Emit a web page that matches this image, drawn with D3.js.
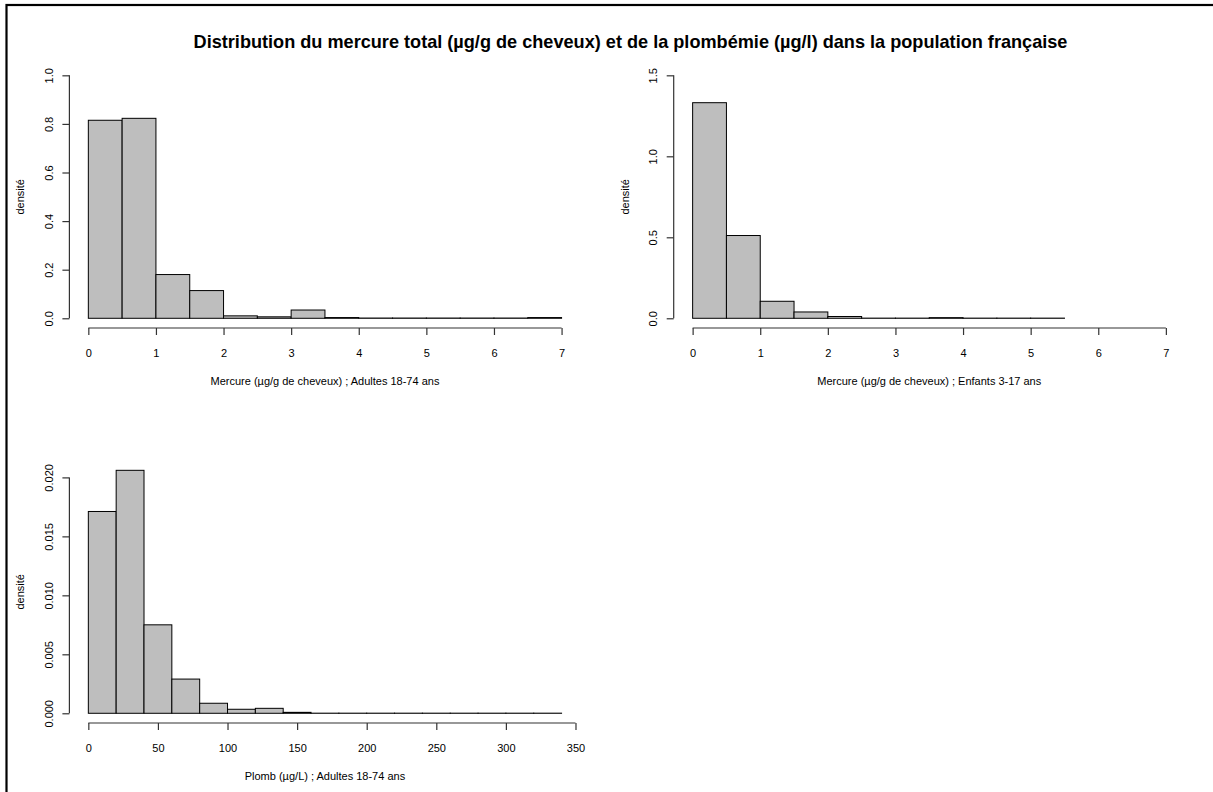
<!DOCTYPE html>
<html>
<head>
<meta charset="utf-8">
<script src="https://cdn.jsdelivr.net/npm/d3@7"></script>
<style>
  html, body { margin: 0; padding: 0; background: #fff; }
  svg { display: block; }
  text { font-family: "Liberation Sans", Arial, Helvetica, sans-serif; fill: #000; }
</style>
</head>
<body>
<svg id="chart" width="1213" height="792"></svg>
<script>
// ---------- data ----------
const chartTitle = "Distribution du mercure total (µg/g de cheveux) et de la plombémie (µg/l) dans la population française";

// Panel 1: Mercure adultes (breaks 0..7 step 0.5)
const hgAdultBreaks = [0, 0.5, 1, 1.5, 2, 2.5, 3, 3.5, 4, 4.5, 5, 5.5, 6, 6.5, 7];
const hgAdultDensity = [0.815, 0.823, 0.180, 0.114, 0.010, 0.006, 0.034, 0.003, 0.001, 0.001, 0.001, 0.001, 0.001, 0.003];
const hgAdultXTicks = [0, 1, 2, 3, 4, 5, 6, 7];
const hgAdultYTicks = [0, 0.2, 0.4, 0.6, 0.8, 1.0];
const hgAdultXLabel = "Mercure (µg/g de cheveux) ; Adultes 18-74 ans";

// Panel 2: Mercure enfants (breaks 0..5.5 step 0.5)
const hgChildBreaks = [0, 0.5, 1, 1.5, 2, 2.5, 3, 3.5, 4, 4.5, 5, 5.5];
const hgChildDensity = [1.331, 0.511, 0.105, 0.039, 0.011, 0.001, 0.001, 0.004, 0.001, 0.001, 0.001];
const hgChildXTicks = [0, 1, 2, 3, 4, 5, 6, 7];
const hgChildYTicks = [0, 0.5, 1.0, 1.5];
const hgChildXLabel = "Mercure (µg/g de cheveux) ; Enfants 3-17 ans";

// Panel 3: Plomb adultes (breaks 0..340 step 20)
const pbAdultBreaks = [0, 20, 40, 60, 80, 100, 120, 140, 160, 180, 200, 220, 240, 260, 280, 300, 320, 340];
const pbAdultDensity = [0.01711, 0.0206, 0.0075, 0.0029, 0.00085, 0.00034, 0.00042, 0.00008, 0.00001, 0.00001, 0.00001, 0.00001, 0.00001, 0.00001, 0.00001, 0.00001, 0.00001];
const pbAdultXTicks = [0, 50, 100, 150, 200, 250, 300, 350];
const pbAdultYTicks = [0, 0.005, 0.010, 0.015, 0.020];
const pbAdultXLabel = "Plomb (µg/L) ; Adultes 18-74 ans";

const yLabelText = "densité";

// ---------- layout ----------
const svg = d3.select("#chart");
const FONT = 11;
const PW = 511.1, PH = 262.4;

// frame (only top/left visible in crop)
svg.append("rect").attr("x", 6.5).attr("y", 5).attr("width", 1300).attr("height", 900)
  .attr("fill", "none").attr("stroke", "#000").attr("stroke-width", 2.2);

// title
const t = svg.append("text").attr("x", 630.5).attr("y", 48).attr("text-anchor", "middle")
  .attr("font-weight", "bold").attr("font-size", 15).text(chartTitle);
const tw = t.node().getComputedTextLength();
t.attr("font-size", 15 * 875 / tw);

function panel(opts) {
  const { left, top, breaks, density, xDomain, yDomain, xTicks, yTicks, xLabel, yFmt } = opts;
  const xr = xDomain[1] - xDomain[0], yr = yDomain[1] - yDomain[0];
  const x = d3.scaleLinear().domain([xDomain[0] - 0.04 * xr, xDomain[1] + 0.04 * xr]).range([left, left + PW]);
  const y = d3.scaleLinear().domain([yDomain[0] - 0.04 * yr, yDomain[1] + 0.04 * yr]).range([top + PH, top]);
  const g = svg.append("g");

  // bars
  const bins = density.map((d, i) => ({ x0: breaks[i], x1: breaks[i + 1], d }));
  g.selectAll("rect.bar").data(bins).enter().append("rect")
    .attr("class", "bar")
    .attr("x", b => x(b.x0))
    .attr("y", b => y(b.d))
    .attr("width", b => x(b.x1) - x(b.x0))
    .attr("height", b => y(0) - y(b.d))
    .attr("fill", "#bebebe").attr("stroke", "#000").attr("stroke-width", 1);

  const axisY = top + PH;   // x-axis position
  const axisX = left;       // y-axis position

  // x axis
  const xa = g.append("g").attr("transform", `translate(0,${axisY})`)
    .call(d3.axisBottom(x).tickValues(xTicks).tickSize(7).tickSizeOuter(0).tickFormat(d3.format("d")));
  xa.select(".domain").remove();
  xa.selectAll(".tick line").attr("stroke", "#333").attr("stroke-width", 1.2);
  xa.append("line").attr("x1", x(xTicks[0])).attr("x2", x(xTicks[xTicks.length - 1]))
    .attr("y1", 0).attr("y2", 0).attr("stroke", "#333").attr("stroke-width", 1.2);
  xa.selectAll(".tick text").attr("y", 28.8).attr("dy", null)
    .attr("font-size", FONT).attr("font-family", null).attr("fill", "#000");

  // y axis
  const ya = g.append("g").attr("transform", `translate(${axisX},0)`)
    .call(d3.axisLeft(y).tickValues(yTicks).tickSize(7).tickSizeOuter(0).tickFormat(yFmt));
  ya.select(".domain").remove();
  ya.selectAll(".tick line").attr("stroke", "#333").attr("stroke-width", 1.2);
  ya.append("line").attr("y1", y(yTicks[0])).attr("y2", y(yTicks[yTicks.length - 1]))
    .attr("x1", 0).attr("x2", 0).attr("stroke", "#333").attr("stroke-width", 1.2);
  ya.selectAll(".tick text").attr("x", null).attr("dy", "0.35em")
    .attr("text-anchor", "middle")
    .attr("transform", "translate(-20.7,0) rotate(-90)")
    .attr("font-size", FONT).attr("font-family", null).attr("fill", "#000");

  // axis labels
  g.append("text").attr("x", left + PW / 2).attr("y", axisY + 57.4)
    .attr("text-anchor", "middle").attr("font-size", FONT).text(xLabel);
  g.append("text").attr("transform", `translate(${axisX - 49},${top + PH / 2}) rotate(-90)`)
    .attr("dy", "0.35em").attr("text-anchor", "middle").attr("font-size", FONT).text(yLabelText);
}

panel({
  left: 69.4, top: 65.6, breaks: hgAdultBreaks, density: hgAdultDensity,
  xDomain: [0, 7], yDomain: [0, 1], xTicks: hgAdultXTicks, yTicks: hgAdultYTicks,
  xLabel: hgAdultXLabel, yFmt: d3.format(".1f")
});
panel({
  left: 673.7, top: 65.6, breaks: hgChildBreaks, density: hgChildDensity,
  xDomain: [0, 7], yDomain: [0, 1.5], xTicks: hgChildXTicks, yTicks: hgChildYTicks,
  xLabel: hgChildXLabel, yFmt: d3.format(".1f")
});
panel({
  left: 69.4, top: 460.6, breaks: pbAdultBreaks, density: pbAdultDensity,
  xDomain: [0, 340], yDomain: [0, d3.max(pbAdultDensity)], xTicks: pbAdultXTicks, yTicks: pbAdultYTicks,
  xLabel: pbAdultXLabel, yFmt: d3.format(".3f")
});
</script>
</body>
</html>
